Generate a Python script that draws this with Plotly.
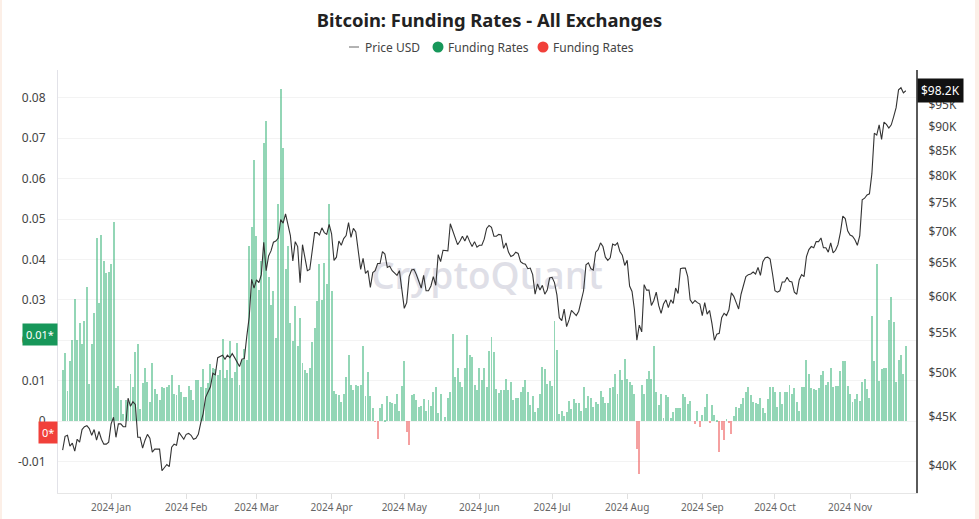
import math
import pandas as pd
import plotly.graph_objects as go

start_date = "2023-12-12"

# Funding rates (daily), month by month
fr_dec = [0.0126, 0.0169, 0.0074, 0.0149, 0.0201, 0.0303, 0.0200, 0.0242, 0.0191, 0.0248,
          0.0332, 0.0092, 0.0190, 0.0268, 0.0453, 0.0293, 0.0460, 0.0396, 0.0367, 0.0368]
fr_jan = [0.0388, 0.0492, 0.0081, 0.0086, 0.0052, 0.0018, 0.0051, 0.0048, 0.0117, 0.0085,
          0.0170, 0.0191, 0.0029, 0.0095, 0.0131, 0.0097, 0.0048, 0.0144, 0.0079, 0.0066,
          0.0052, 0.0083, 0.0081, 0.0085, 0.0089, 0.0113, 0.0068, 0.0064, 0.0089, 0.0073, 0.0059]
fr_feb = [0.0059, 0.0087, 0.0077, 0.0052, 0.0101, 0.0102, 0.0083, 0.0129, 0.0081, 0.0093,
          0.0140, 0.0130, 0.0129, 0.0114, 0.0126, 0.0202, 0.0106, 0.0126, 0.0199, 0.0106,
          0.0122, 0.0192, 0.0089, 0.0151, 0.0179, 0.0150, 0.0434, 0.0481, 0.0645]
fr_mar = [0.0458, 0.0324, 0.0396, 0.0688, 0.0743, 0.0356, 0.0287, 0.0323, 0.0206, 0.0536,
          0.0821, 0.0675, 0.0376, 0.0433, 0.0243, 0.0198, 0.0284, 0.0186, 0.0255, 0.0144,
          0.0126, 0.0119, 0.0130, 0.0195, 0.0229, 0.0297, 0.0388, 0.0300, 0.0390, 0.0339, 0.0537]
fr_apr = [0.0323, 0.0075, 0.0068, 0.0064, 0.0048, 0.0066, 0.0110, 0.0163, 0.0089, 0.0077,
          0.0089, 0.0087, 0.0089, 0.0186, 0.0062, 0.0122, 0.0061, 0.0031, -0.0002, -0.0045,
          0.0031, 0.0041, 0.0002, 0.0062, 0.0048, 0.0044, 0.0041, 0.0068, 0.0025, 0.0087]
fr_may = [0.0149, -0.0026, -0.0060, 0.0064, 0.0066, 0.0051, 0.0035, 0.0038, 0.0054, 0.0026,
          0.0052, 0.0037, 0.0073, 0.0084, 0.0019, 0.0067, 0.0000, 0.0009, 0.0056, 0.0073,
          0.0215, 0.0109, 0.0130, 0.0097, 0.0083, 0.0130, 0.0212, 0.0163, 0.0158, 0.0089, 0.0077]
fr_jun = [0.0132, 0.0101, 0.0131, 0.0084, 0.0174, 0.0209, 0.0172, 0.0078, 0.0070, 0.0077,
          0.0077, 0.0103, 0.0076, 0.0096, 0.0052, 0.0056, 0.0057, 0.0071, 0.0083, 0.0101,
          0.0073, 0.0040, 0.0062, 0.0023, 0.0033, 0.0067, 0.0134, 0.0129, 0.0091, 0.0099]
fr_jul = [0.0087, 0.0248, 0.0176, 0.0017, 0.0026, 0.0012, 0.0023, 0.0050, 0.0029, 0.0054,
          0.0044, 0.0044, 0.0026, 0.0083, 0.0033, 0.0062, 0.0056, 0.0035, 0.0048, 0.0042,
          0.0074, 0.0059, 0.0044, 0.0045, 0.0081, 0.0083, 0.0117, 0.0066, 0.0127, 0.0101, 0.0153]
fr_aug = [0.0104, 0.0097, 0.0089, 0.0068, -0.0069, -0.0131, 0.0089, 0.0066, 0.0103, 0.0124,
          0.0103, 0.0186, 0.0071, 0.0040, 0.0066, 0.0007, 0.0064, 0.0060, 0.0007, 0.0023,
          0.0033, 0.0031, 0.0031, 0.0068, 0.0060, 0.0042, 0.0050, 0.0000, -0.0008, 0.0025, -0.0014]
fr_sep = [0.0015, 0.0035, 0.0068, -0.0006, 0.0040, 0.0015, 0.0002, -0.0076, -0.0022, -0.0047,
          0.0005, -0.0003, -0.0031, 0.0013, 0.0035, 0.0031, 0.0041, 0.0056, 0.0073, 0.0083,
          0.0064, 0.0048, 0.0044, 0.0042, 0.0056, 0.0033, 0.0019, 0.0054, 0.0084, 0.0083]
fr_oct = [0.0071, 0.0035, 0.0071, 0.0042, 0.0073, 0.0072, 0.0088, 0.0067, 0.0082, 0.0048,
          0.0026, 0.0083, 0.0083, 0.0151, 0.0116, 0.0081, 0.0078, 0.0076, 0.0081, 0.0114,
          0.0125, 0.0089, 0.0097, 0.0132, 0.0083, 0.0087, 0.0087, 0.0124, 0.0149, 0.0149, 0.0087]
fr_nov = [0.0068, 0.0046, 0.0054, 0.0067, 0.0050, 0.0096, 0.0104, 0.0079, 0.0058, 0.0260,
          0.0149, 0.0389, 0.0099, 0.0128, 0.0132, 0.0132, 0.0250, 0.0308, 0.0246, 0.0096,
          0.0151, 0.0163, 0.0116, 0.0186]

# BTC price in thousands of USD (daily)
px_dec = [41.5, 42.9, 43.0, 41.9, 42.2, 41.4, 42.6, 42.3, 43.6, 43.9,
          44.0, 43.7, 43.0, 43.6, 42.5, 43.4, 42.6, 42.1, 42.1, 42.3]
px_jan = [44.2, 44.9, 42.8, 44.2, 44.2, 43.9, 43.9, 47.0, 46.1, 46.6,
          46.3, 42.8, 42.8, 41.7, 42.5, 43.1, 42.7, 41.3, 41.6, 41.6,
          41.6, 39.5, 39.8, 40.1, 39.9, 41.8, 42.1, 42.0, 43.3, 42.9, 42.6]
px_feb = [43.1, 43.2, 43.0, 42.6, 42.7, 43.1, 44.3, 45.3, 47.1, 47.8,
          48.3, 49.9, 49.7, 51.8, 52.0, 52.1, 51.6, 52.1, 51.8, 52.3,
          51.8, 51.3, 50.7, 51.6, 51.7, 54.5, 57.1, 62.5, 61.2]
px_mar = [62.4, 62.0, 63.2, 68.3, 63.8, 66.1, 66.9, 68.3, 68.5, 69.0,
          72.1, 71.5, 73.1, 71.4, 69.4, 65.3, 68.4, 67.6, 62.0, 67.9,
          65.5, 63.8, 64.0, 67.2, 69.9, 69.9, 69.5, 70.7, 69.9, 69.6, 71.3]
px_apr = [69.7, 65.4, 65.9, 68.5, 67.8, 68.9, 69.4, 71.6, 69.1, 70.6,
          70.0, 67.2, 64.0, 65.7, 63.4, 63.8, 61.3, 63.5, 63.8, 64.9,
          64.9, 66.8, 66.4, 64.3, 64.5, 63.8, 63.4, 63.1, 63.8, 60.6]
px_may = [58.3, 59.1, 62.9, 63.9, 64.0, 63.2, 62.3, 61.2, 63.1, 60.8,
          60.8, 61.5, 62.9, 61.6, 66.3, 65.2, 67.0, 67.0, 66.9, 71.4,
          70.1, 69.1, 67.9, 68.5, 69.3, 68.5, 69.4, 68.4, 67.6, 68.4, 67.5]
px_jun = [67.8, 67.8, 68.8, 70.6, 71.1, 70.8, 69.3, 69.3, 69.6, 69.5,
          67.3, 68.2, 66.7, 66.0, 66.2, 66.7, 66.5, 65.2, 64.9, 64.8,
          64.1, 64.2, 63.2, 60.3, 61.8, 60.9, 61.6, 60.3, 60.9, 62.7]
px_jul = [62.8, 62.0, 60.2, 57.0, 56.6, 58.2, 55.8, 56.7, 58.0, 57.7,
          57.3, 57.9, 59.2, 60.8, 64.7, 65.0, 64.1, 63.9, 66.7, 67.1,
          68.2, 67.6, 65.9, 65.4, 65.8, 68.0, 67.8, 68.2, 66.8, 66.2, 64.6]
px_aug = [65.4, 61.5, 60.7, 58.1, 54.0, 56.0, 55.1, 61.7, 60.9, 60.9,
          58.7, 59.4, 60.6, 58.7, 57.6, 58.9, 59.5, 58.4, 59.5, 59.0,
          61.2, 60.4, 64.1, 64.2, 64.2, 62.9, 59.5, 59.0, 59.4, 59.1, 58.9]
px_sep = [57.3, 59.1, 57.5, 58.0, 56.2, 54.0, 54.8, 54.9, 57.0, 57.6,
          57.3, 58.1, 60.5, 60.0, 59.1, 58.2, 60.3, 61.8, 62.9, 63.2,
          63.3, 63.6, 63.3, 64.3, 63.1, 65.2, 65.8, 65.9, 65.6, 63.3]
px_oct = [60.8, 60.6, 60.8, 62.1, 62.1, 62.8, 62.2, 62.1, 60.6, 60.3,
          62.4, 63.2, 62.9, 66.0, 67.1, 67.6, 67.4, 68.4, 68.4, 69.0,
          67.4, 67.4, 66.7, 68.2, 66.6, 67.0, 67.9, 69.9, 72.7, 72.3, 70.2]
px_nov = [69.5, 69.3, 68.7, 67.8, 69.4, 75.6, 75.9, 76.5, 76.7, 80.5,
          88.7, 88.3, 90.5, 87.4, 91.1, 90.6, 89.8, 90.5, 92.3, 94.3,
          98.4, 98.9, 97.7, 98.2]

left_ticks = [-0.01, 0, 0.01, 0.02, 0.03, 0.04, 0.05, 0.06, 0.07, 0.08]
left_labels = ["-0.01", "0", "0.01", "0.02", "0.03", "0.04", "0.05", "0.06", "0.07", "0.08"]
right_ticks_k = [40, 45, 50, 55, 60, 65, 70, 75, 80, 85, 90, 95]
legend_names = ["Price USD", "Funding Rates", "Funding Rates"]

funding = (fr_dec + fr_jan + fr_feb + fr_mar + fr_apr + fr_may + fr_jun + fr_jul
           + fr_aug + fr_sep + fr_oct + fr_nov)
price_k = (px_dec + px_jan + px_feb + px_mar + px_apr + px_may + px_jun + px_jul
           + px_aug + px_sep + px_oct + px_nov)
price = [p * 1000 for p in price_k]
dates = pd.date_range(start_date, periods=len(funding), freq="D")

pos = [v if v >= 0 else None for v in funding]
neg = [v if v < 0 else None for v in funding]

GREEN_BAR = "#4cbb87"
RED_BAR = "#f06262"
GREEN_DOT = "#17975a"
RED_DOT = "#f1403a"
DAY_MS = 86400000

W, H = 979, 519
ML, MR, MT, MB = 58, 63, 70, 26
PW = W - ML - MR
PH = H - MT - MB


def px_x(p):
    return (p - ML) / PW


def px_y(p):
    return (H - MB - p) / PH


fig = go.Figure()
fig.add_trace(go.Bar(x=dates, y=pos, width=0.4 * DAY_MS, marker=dict(color=GREEN_BAR, line=dict(width=0)),
                     opacity=0.6, showlegend=False, name=legend_names[1], yaxis="y"))
fig.add_trace(go.Bar(x=dates, y=neg, width=0.4 * DAY_MS, marker=dict(color=RED_BAR, line=dict(width=0)),
                     opacity=0.6, showlegend=False, name=legend_names[2], yaxis="y"))
fig.add_trace(go.Scatter(x=dates, y=price, mode="lines", line=dict(color="#333333", width=1.1),
                         name=legend_names[0], yaxis="y2", showlegend=False))

fig.update_layout(
    width=W, height=H,
    margin=dict(l=ML, r=MR, t=MT, b=MB, autoexpand=False),
    paper_bgcolor="white", plot_bgcolor="white",
    font=dict(family="Noto Sans, Open Sans, sans-serif", color="#333"),
    title=dict(text="<b>Bitcoin: Funding Rates - All Exchanges</b>", x=0.5, xanchor="center",
               xref="container", y=0.961, yanchor="middle", font=dict(size=18.4, color="#222")),
    showlegend=False,
    barmode="overlay", bargap=0,
    xaxis=dict(type="date", range=["2023-12-10 02:00", "2024-11-28 05:00"],
               tickformat="%Y %b", dtick="M1", tick0="2024-01-01",
               ticks="outside", ticklen=5, tickcolor="#e0e0e0",
               showgrid=False, showline=True, linecolor="#e6e6e6", zeroline=False,
               tickfont=dict(size=10, color="#666")),
    yaxis=dict(range=[-0.01782, 0.08688], tickvals=left_ticks, ticktext=left_labels,
               showgrid=True, gridcolor="#f3f3f3", zeroline=False,
               showline=True, linecolor="#e2e2e8", ticks="",
               tickfont=dict(size=12, color="#444"), ticklabelstandoff=9),
    yaxis2=dict(overlaying="y", side="right", type="log",
                range=[math.log10(37450), math.log10(103200)],
                tickvals=[t * 1000 for t in right_ticks_k],
                ticktext=[f"${t}K" for t in right_ticks_k],
                showgrid=False, zeroline=False, showline=True, linecolor="#5a5a5a", linewidth=2,
                ticks="", tickfont=dict(size=12, color="#444"), ticklabelstandoff=8),
)

# watermark behind the traces
fig.add_shape(type="rect", xref="paper", yref="paper", x0=0.3, x1=0.7, y0=0.45, y1=0.57,
              line=dict(width=0), fillcolor="rgba(0,0,0,0)", layer="between",
              label=dict(text="CryptoQuant", textposition="middle center",
                         font=dict(size=37, color="#dfdfe7", family="Open Sans", weight=600)))

# page edge tint
for x0, x1 in [(px_x(0), px_x(2)), (px_x(975), px_x(985))]:
    fig.add_shape(type="rect", xref="paper", yref="paper", x0=x0, x1=x1, y0=px_y(H + 5), y1=px_y(-5),
                  line=dict(width=0), fillcolor="#fcefe7", layer="below")

# legend (drawn as text + symbols)
LEG_Y = px_y(47)
fig.add_shape(type="line", xref="paper", yref="paper", x0=px_x(349), x1=px_x(359), y0=LEG_Y, y1=LEG_Y,
              line=dict(color="#666", width=1))
fig.add_annotation(xref="paper", yref="paper", x=px_x(363), y=LEG_Y, xanchor="left", yanchor="middle",
                   text=legend_names[0], showarrow=False, font=dict(size=12, color="#444"))
for cx, col, tx, name in [(438, GREEN_DOT, 446, legend_names[1]), (543, RED_DOT, 551, legend_names[2])]:
    fig.add_shape(type="circle", xref="paper", yref="paper",
                  x0=px_x(cx - 5.5), x1=px_x(cx + 5.5), y0=px_y(47 + 5.5), y1=px_y(47 - 5.5),
                  line=dict(width=0), fillcolor=col)
    fig.add_annotation(xref="paper", yref="paper", x=px_x(tx), y=LEG_Y, xanchor="left", yanchor="middle",
                       text=name, showarrow=False, font=dict(size=12, color="#444"))

# last-value labels
last_fr = funding[-1]
last_neg = 0
fig.add_annotation(xref="paper", yref="y", x=0, y=last_fr, xanchor="right", yanchor="bottom",
                   text=f"{math.floor(last_fr * 100) / 100:g}*", showarrow=False,
                   bgcolor=GREEN_DOT, font=dict(color="white", size=11), borderpad=3)
fig.add_annotation(xref="paper", yref="y", x=0, y=last_neg, xanchor="right", yanchor="top",
                   text=f"{last_neg}*", showarrow=False,
                   bgcolor=RED_DOT, font=dict(color="white", size=11), borderpad=3)
fig.add_annotation(xref="paper", yref="y2", x=1, y=math.log10(price[-1]), xanchor="left",
                   yanchor="middle", xshift=1, text=f"${price_k[-1]:.1f}K", showarrow=False,
                   bgcolor="#111111", font=dict(color="white", size=12), borderpad=3)

fig.write_html("out.html", config={"displayModeBar": False},
               post_script="document.body.style.margin='0';document.body.style.overflow='hidden';")
